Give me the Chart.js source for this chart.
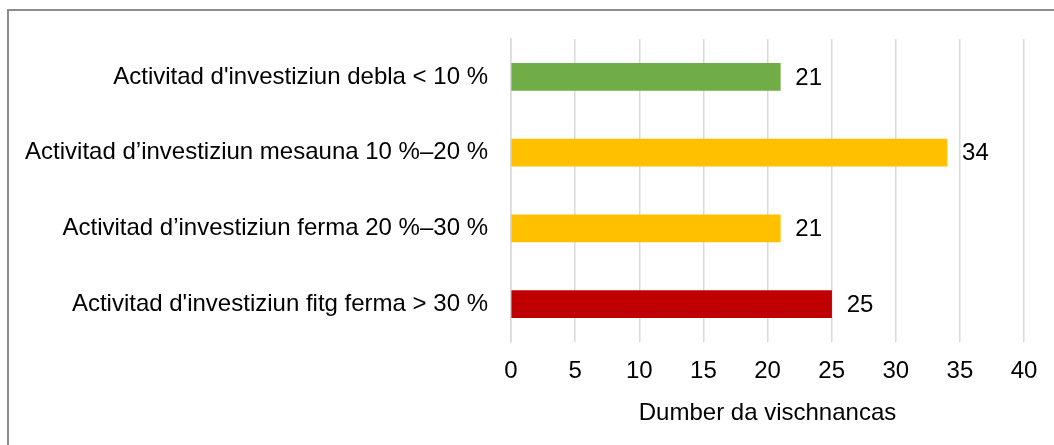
<!DOCTYPE html>
<html>
<head>
<meta charset="utf-8">
<script src="https://cdn.jsdelivr.net/npm/chart.js@4/dist/chart.umd.min.js"></script>
<style>
  html, body { margin: 0; padding: 0; background: #fff; }
  #wrap { width: 1054px; height: 445px; position: relative; }
</style>
</head>
<body>
<div id="wrap"><canvas id="c" width="1054" height="445"></canvas></div>
<script>
const categories = [
  "Activitad d'investiziun debla < 10 %",
  "Activitad d\u2019investiziun mesauna 10 %\u201320 %",
  "Activitad d\u2019investiziun ferma 20 %\u201330 %",
  "Activitad d'investiziun fitg ferma > 30 %"
];
const values = [21, 34, 21, 25];
const barColors = ["#70AD47", "#FFC000", "#FFC000", "#C00000"];
const xTicks = [0, 5, 10, 15, 20, 25, 30, 35, 40];
const xTitle = "Dumber da vischnancas";

const FONT = "'Liberation Sans', Arial, sans-serif";
const TXT = "#000000";
const FS = 24;

const frame = {
  id: 'frame',
  afterDraw(chart) {
    const ctx = chart.ctx;
    ctx.save();
    ctx.strokeStyle = '#8c8c8c';
    ctx.lineWidth = 2;
    ctx.beginPath();
    ctx.moveTo(1054, 10);
    ctx.lineTo(8, 10);
    ctx.lineTo(8, 445);
    ctx.stroke();
    ctx.restore();
  }
};

const valueLabels = {
  id: 'valueLabels',
  afterDatasetsDraw(chart) {
    const ctx = chart.ctx;
    const meta = chart.getDatasetMeta(0);
    ctx.save();
    ctx.font = FS + "px " + FONT;
    ctx.fillStyle = TXT;
    ctx.textAlign = 'left';
    ctx.textBaseline = 'middle';
    meta.data.forEach((bar, i) => {
      ctx.fillText(String(values[i]), bar.x + 15, bar.y + 1);
    });
    ctx.restore();
  }
};

new Chart(document.getElementById('c'), {
  type: 'bar',
  data: {
    labels: categories,
    datasets: [{
      data: values,
      backgroundColor: barColors,
      borderWidth: 0,
      barThickness: 27
    }]
  },
  options: {
    indexAxis: 'y',
    responsive: false,
    animation: false,
    layout: { padding: { left: 0, right: 30, top: 39, bottom: 0 } },
    plugins: { legend: { display: false }, tooltip: { enabled: false } },
    scales: {
      x: {
        min: 0, max: 40,
        afterBuildTicks(scale) { scale.ticks = xTicks.map(v => ({ value: v })); },
        afterFit(scale) { scale.height = 103; },
        grid: { color: '#D9D9D9', lineWidth: 1.5, drawTicks: false },
        border: { display: false },
        ticks: { color: TXT, font: { family: FONT, size: FS }, padding: 15 },
        title: {
          display: true, text: xTitle, color: TXT,
          font: { family: FONT, size: FS },
          padding: { top: 0, bottom: 17 }
        }
      },
      y: {
        afterFit(scale) { scale.width = 511; },
        grid: { display: false, drawTicks: false },
        border: { display: true, color: '#D9D9D9', width: 1.5 },
        ticks: { color: TXT, font: { family: FONT, size: FS }, padding: 23 }
      }
    }
  },
  plugins: [frame, valueLabels]
});
</script>
</body>
</html>
